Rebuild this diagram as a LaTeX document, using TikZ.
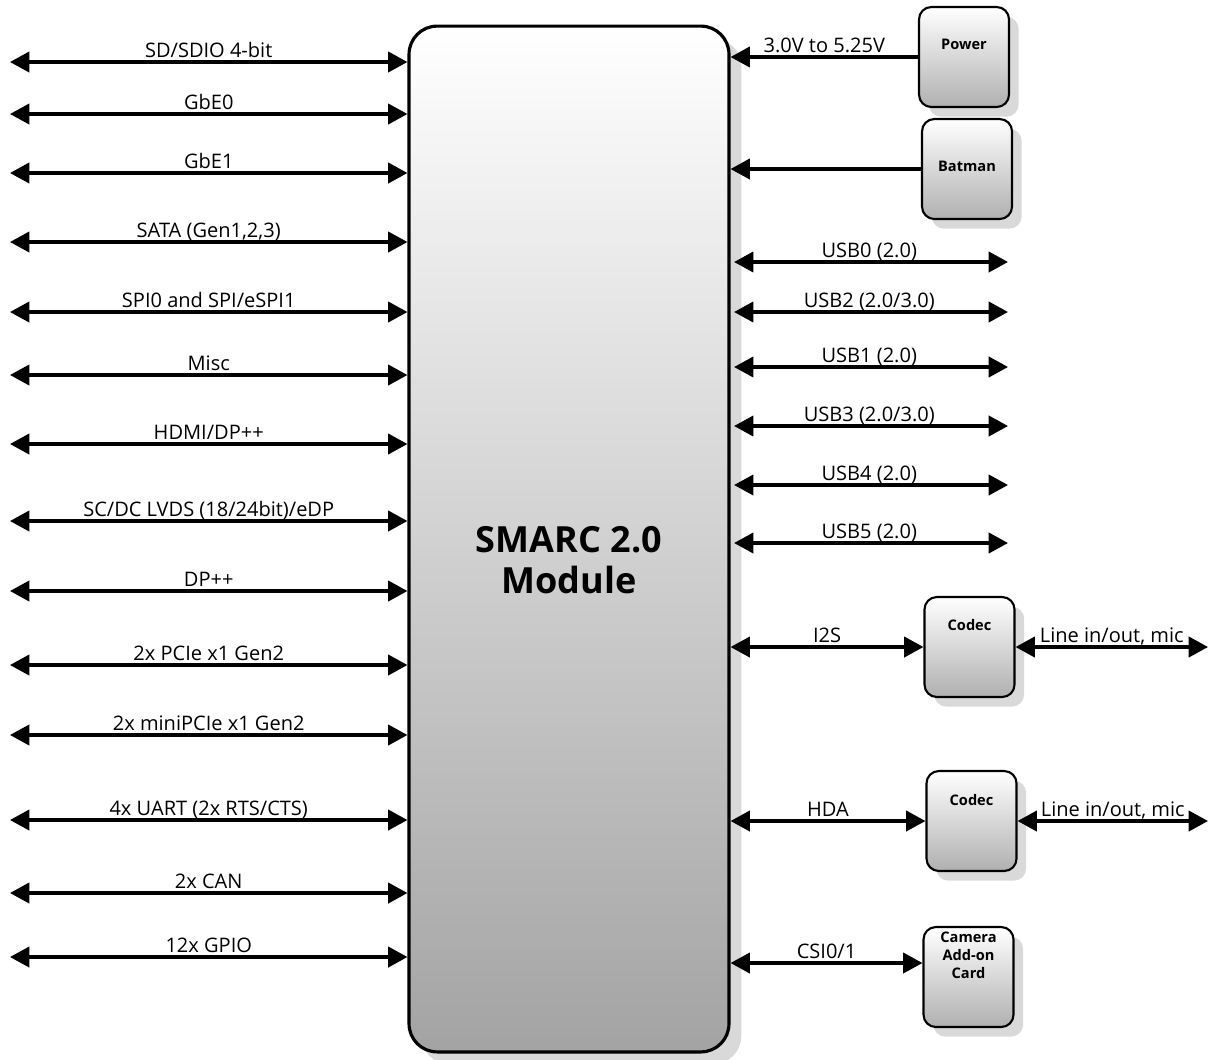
\documentclass[tikz,border=0pt]{standalone}
\usepackage{fontspec}
\setmainfont{Open Sans}
\usetikzlibrary{arrows.meta,shadows}

\tikzset{
  link/.style={line width=1.9pt, {Triangle[length=11pt,width=11.5pt]}-{Triangle[length=11pt,width=11.5pt]}},
  feed/.style={line width=1.9pt, -{Triangle[length=11pt,width=11.5pt]}},
  lbl/.style={midway, anchor=base, yshift=2.5pt, inner sep=0pt, font=\fontsize{11.4}{13}\selectfont},
  module/.style={draw, line width=1.8pt, rounded corners=16pt, minimum width=6.4cm, minimum height=20.52cm,
    top color=white, bottom color=gray!72,
    drop shadow={shadow xshift=7pt, shadow yshift=-7pt, fill=black!15, opacity=1}},
  modtxt/.style={font=\bfseries\fontsize{20.5}{23.5}\selectfont, align=center, inner sep=0pt},
  blk/.style={draw, line width=1.2pt, rounded corners=7pt, minimum width=1.8cm, minimum height=2cm,
    top color=white, bottom color=gray!62,
    drop shadow={shadow xshift=5.5pt, shadow yshift=-5.5pt, fill=black!15, opacity=1}},
  blktxt/.style={font=\bfseries\fontsize{8.3}{10.2}\selectfont, align=center, inner sep=0pt},
}

\begin{document}
\begin{tikzpicture}[x=0.02cm, y=-0.02cm]
  \useasboundingbox (0,0) rectangle (1212,1059);

  % the module
  \node[module] (smarc) at (569,539) {};
  \node[modtxt] (smarcTxt) at (569,560) {SMARC 2.0\\Module};

  % boxes on the right
  \node[blk] (power) at (964,57) {};
  \node[blktxt] (powerTxt) at (964,44) {Power};
  \node[blk] (batman) at (967,169) {};
  \node[blktxt] (batmanTxt) at (967,166) {Batman};
  \node[blk] (codecA) at (969.5,647) {};
  \node[blktxt] (codecATxt) at (969.5,625) {Codec};
  \node[blk] (codecB) at (971.5,821) {};
  \node[blktxt] (codecBTxt) at (971.5,800) {Codec};
  \node[blk] (camera) at (968.5,977) {};
  \node[blktxt] (cameraTxt) at (968.5,955) {Camera\\Add-on\\Card};

  % free ends on the left
  \coordinate (sd) at (10,62);
  \coordinate (gbe0) at (10,114);
  \coordinate (gbe1) at (10,173);
  \coordinate (sata) at (10,242);
  \coordinate (spi) at (10,312);
  \coordinate (misc) at (10,375);
  \coordinate (hdmi) at (10,444);
  \coordinate (lvds) at (10,521);
  \coordinate (dp) at (10,591);
  \coordinate (pcie) at (10,665);
  \coordinate (mpcie) at (10,735);
  \coordinate (uart) at (10,820);
  \coordinate (can) at (10,893);
  \coordinate (gpio) at (10,957);

  \draw[link] (sd) -- (sd -| smarc.west) node[lbl] {SD/SDIO 4-bit};
  \draw[link] (gbe0) -- (gbe0 -| smarc.west) node[lbl] {GbE0};
  \draw[link] (gbe1) -- (gbe1 -| smarc.west) node[lbl] {GbE1};
  \draw[link] (sata) -- (sata -| smarc.west) node[lbl] {SATA (Gen1,2,3)};
  \draw[link] (spi) -- (spi -| smarc.west) node[lbl] {SPI0 and SPI/eSPI1};
  \draw[link] (misc) -- (misc -| smarc.west) node[lbl] {Misc};
  \draw[link] (hdmi) -- (hdmi -| smarc.west) node[lbl] {HDMI/DP++};
  \draw[link] (lvds) -- (lvds -| smarc.west) node[lbl] {SC/DC LVDS (18/24bit)/eDP};
  \draw[link] (dp) -- (dp -| smarc.west) node[lbl] {DP++};
  \draw[link] (pcie) -- (pcie -| smarc.west) node[lbl] {2x PCIe x1 Gen2};
  \draw[link] (mpcie) -- (mpcie -| smarc.west) node[lbl] {2x miniPCIe x1 Gen2};
  \draw[link] (uart) -- (uart -| smarc.west) node[lbl] {4x UART (2x RTS/CTS)};
  \draw[link] (can) -- (can -| smarc.west) node[lbl] {2x CAN};
  \draw[link] (gpio) -- (gpio -| smarc.west) node[lbl] {12x GPIO};

  % supply
  \draw[feed] (power) -- (power -| smarc.east) node[lbl] {3.0V to 5.25V};
  \draw[feed] (batman) -- (batman -| smarc.east);

  % usb
  \coordinate (usb0) at (1008,262);
  \coordinate (usb2) at (1008,312);
  \coordinate (usb1) at (1008,367);
  \coordinate (usb3) at (1008,426);
  \coordinate (usb4) at (1008,485);
  \coordinate (usb5) at (1008,543);

  \draw[link, shorten <=2pt] (smarc.east |- usb0) -- (usb0) node[lbl] {USB0 (2.0)};
  \draw[link, shorten <=2pt] (smarc.east |- usb2) -- (usb2) node[lbl] {USB2 (2.0/3.0)};
  \draw[link, shorten <=2pt] (smarc.east |- usb1) -- (usb1) node[lbl] {USB1 (2.0)};
  \draw[link, shorten <=2pt] (smarc.east |- usb3) -- (usb3) node[lbl] {USB3 (2.0/3.0)};
  \draw[link, shorten <=2pt] (smarc.east |- usb4) -- (usb4) node[lbl] {USB4 (2.0)};
  \draw[link, shorten <=2pt] (smarc.east |- usb5) -- (usb5) node[lbl] {USB5 (2.0)};

  % audio and camera
  \coordinate (lineA) at (1208,647);
  \coordinate (lineB) at (1208,821);
  \coordinate (csi) at (900,963);

  \draw[link] (smarc.east |- codecA) -- (codecA) node[lbl] {I2S};
  \draw[link] (codecA) -- (lineA) node[lbl] {Line in/out, mic};
  \draw[link] (smarc.east |- codecB) -- (codecB) node[lbl] {HDA};
  \draw[link] (codecB) -- (lineB) node[lbl] {Line in/out, mic};
  \draw[link] (smarc.east |- csi) -- (camera.west |- csi) node[lbl] {CSI0/1};
\end{tikzpicture}
\end{document}
